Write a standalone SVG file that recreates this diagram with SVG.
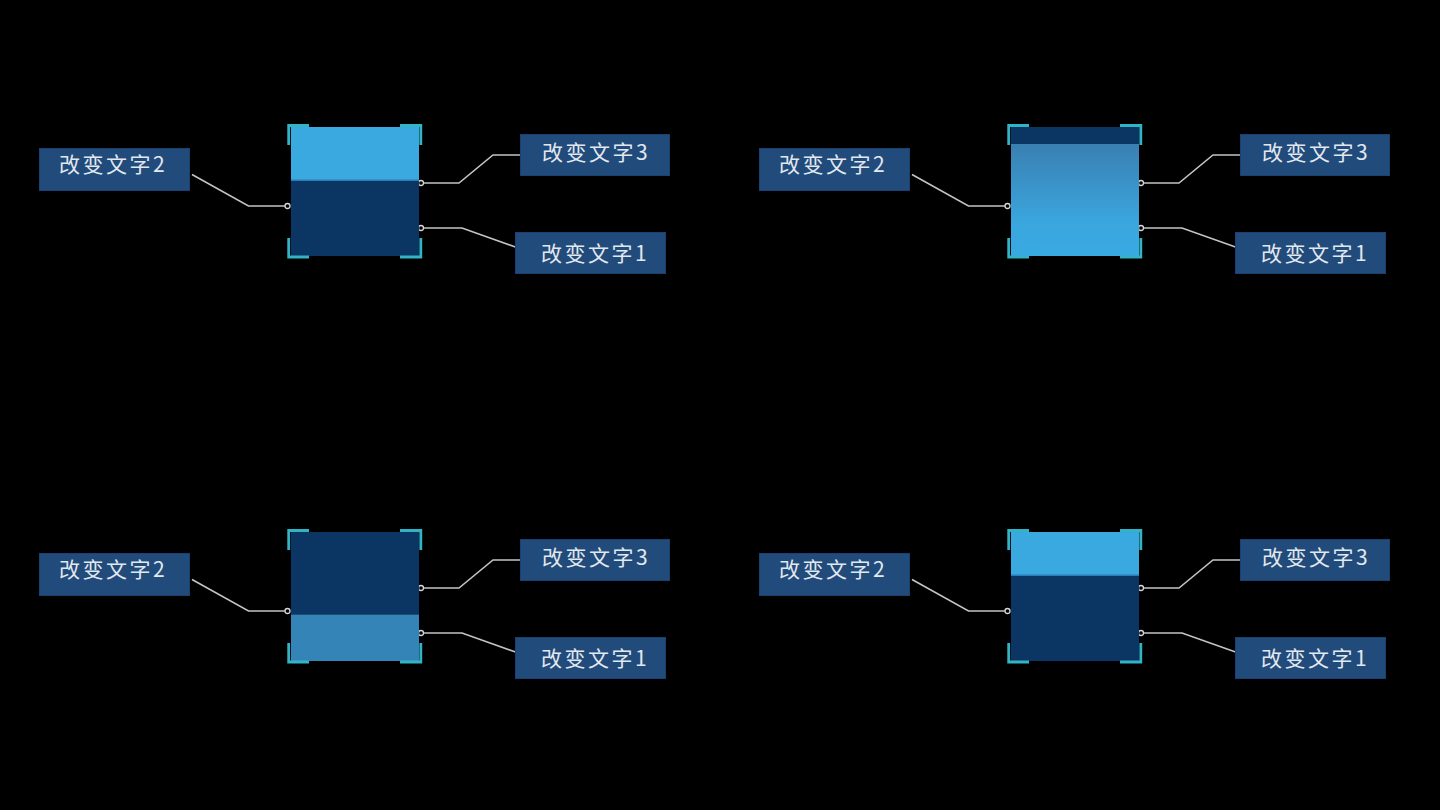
<svg xmlns="http://www.w3.org/2000/svg" width="1440" height="810" viewBox="0 0 1440 810">
<style>
.lbl{fill:#214b7b;stroke:#1a4170;stroke-width:1}
.txt{font-family:"Noto Sans CJK SC","Noto Sans",sans-serif;font-size:21px;fill:#e2e8ef;text-anchor:middle;letter-spacing:2.5px}
.br{fill:none;stroke:#33b4c6;stroke-width:2.8}
.con{fill:none;stroke:#c4c4c4;stroke-width:1.6}
.dot{fill:#000;stroke:#d8d8d8;stroke-width:1.3}
.light{fill:#3aa9e0}
.dark{fill:#0b3563}
.mid{fill:#3484b8}
</style>
<defs>
<linearGradient id="grad" x1="0" y1="0" x2="0" y2="1">
<stop offset="0" stop-color="#3a7fb2"/>
<stop offset="0.7" stop-color="#3aa6de"/>
<stop offset="1" stop-color="#3aaae2"/>
</linearGradient>
<path id="brackets" d="M288.7,145 V125.5 H309 M400,125.5 H420.8 V145 M288.7,238 V257 H309 M400,257 H420.8 V238"/>
</defs>
<rect width="1440" height="810" fill="#000"/>

<!-- Panel TL -->
<g id="panel-tl">
<g id="tl-connectors">
<path class="con" d="M192,174.5 L248.5,206 H285"/>
<path class="con" d="M423.5,183 H459 L493,155 H520"/>
<path class="con" d="M423.5,228 H462 L515.5,247"/>
<circle class="dot" cx="287.5" cy="206" r="2.5"/>
<circle class="dot" cx="421" cy="183" r="2.5"/>
<circle class="dot" cx="421" cy="228" r="2.5"/>
</g>
<g id="tl-box">
<rect class="light" x="291" y="127" width="128" height="53"/>
<rect class="dark" x="291" y="180" width="128" height="76"/>
<rect x="291" y="179.5" width="128" height="1.5" fill="#2b7cb5"/>
<use href="#brackets" class="br"/>
</g>
<g id="tl-label2"><rect class="lbl" x="39.5" y="148.5" width="150" height="42"/><text class="txt" x="113" y="172">改变文字2</text></g>
<g id="tl-label3"><rect class="lbl" x="520.5" y="134.5" width="149" height="41"/><text class="txt" x="596" y="160">改变文字3</text></g>
<g id="tl-label1"><rect class="lbl" x="515.5" y="232.5" width="150" height="41"/><text class="txt" x="595" y="261">改变文字1</text></g>
</g>

<!-- Panel TR -->
<g id="panel-tr" transform="translate(720,0)">
<g id="tr-connectors">
<path class="con" d="M192,174.5 L248.5,206 H285"/>
<path class="con" d="M423.5,183 H459 L493,155 H520"/>
<path class="con" d="M423.5,228 H462 L515.5,247"/>
<circle class="dot" cx="287.5" cy="206" r="2.5"/>
<circle class="dot" cx="421" cy="183" r="2.5"/>
<circle class="dot" cx="421" cy="228" r="2.5"/>
</g>
<g id="tr-box">
<rect class="dark" x="291" y="127" width="128" height="17"/>
<rect fill="url(#grad)" x="291" y="144" width="128" height="112"/>
<use href="#brackets" class="br"/>
</g>
<g id="tr-label2"><rect class="lbl" x="39.5" y="148.5" width="150" height="42"/><text class="txt" x="113" y="172">改变文字2</text></g>
<g id="tr-label3"><rect class="lbl" x="520.5" y="134.5" width="149" height="41"/><text class="txt" x="596" y="160">改变文字3</text></g>
<g id="tr-label1"><rect class="lbl" x="515.5" y="232.5" width="150" height="41"/><text class="txt" x="595" y="261">改变文字1</text></g>
</g>

<!-- Panel BL -->
<g id="panel-bl" transform="translate(0,405)">
<g id="bl-connectors">
<path class="con" d="M192,174.5 L248.5,206 H285"/>
<path class="con" d="M423.5,183 H459 L493,155 H520"/>
<path class="con" d="M423.5,228 H462 L515.5,247"/>
<circle class="dot" cx="287.5" cy="206" r="2.5"/>
<circle class="dot" cx="421" cy="183" r="2.5"/>
<circle class="dot" cx="421" cy="228" r="2.5"/>
</g>
<g id="bl-box">
<rect class="dark" x="291" y="127" width="128" height="82.5"/>
<rect class="mid" x="291" y="209.5" width="128" height="46.5"/>
<use href="#brackets" class="br"/>
</g>
<g id="bl-label2"><rect class="lbl" x="39.5" y="148.5" width="150" height="42"/><text class="txt" x="113" y="172">改变文字2</text></g>
<g id="bl-label3"><rect class="lbl" x="520.5" y="134.5" width="149" height="41"/><text class="txt" x="596" y="160">改变文字3</text></g>
<g id="bl-label1"><rect class="lbl" x="515.5" y="232.5" width="150" height="41"/><text class="txt" x="595" y="261">改变文字1</text></g>
</g>

<!-- Panel BR -->
<g id="panel-br" transform="translate(720,405)">
<g id="br-connectors">
<path class="con" d="M192,174.5 L248.5,206 H285"/>
<path class="con" d="M423.5,183 H459 L493,155 H520"/>
<path class="con" d="M423.5,228 H462 L515.5,247"/>
<circle class="dot" cx="287.5" cy="206" r="2.5"/>
<circle class="dot" cx="421" cy="183" r="2.5"/>
<circle class="dot" cx="421" cy="228" r="2.5"/>
</g>
<g id="br-box">
<rect class="light" x="291" y="127" width="128" height="43"/>
<rect class="dark" x="291" y="170" width="128" height="86"/>
<rect x="291" y="169.5" width="128" height="1.5" fill="#2b7cb5"/>
<use href="#brackets" class="br"/>
</g>
<g id="br-label2"><rect class="lbl" x="39.5" y="148.5" width="150" height="42"/><text class="txt" x="113" y="172">改变文字2</text></g>
<g id="br-label3"><rect class="lbl" x="520.5" y="134.5" width="149" height="41"/><text class="txt" x="596" y="160">改变文字3</text></g>
<g id="br-label1"><rect class="lbl" x="515.5" y="232.5" width="150" height="41"/><text class="txt" x="595" y="261">改变文字1</text></g>
</g>
</svg>
